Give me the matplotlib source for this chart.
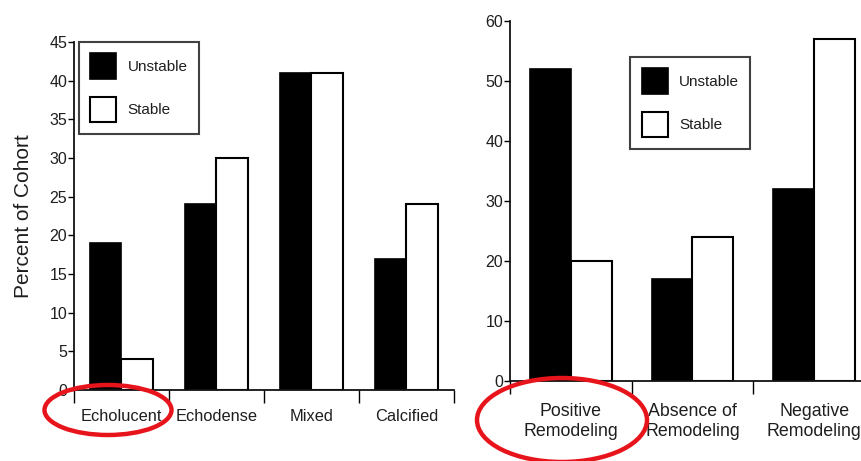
import matplotlib
matplotlib.use("Agg")
import matplotlib.pyplot as plt
from matplotlib.patches import Ellipse, Patch
from matplotlib.transforms import IdentityTransform
import numpy as np

plt.rcParams['font.family'] = ['Liberation Sans', 'DejaVu Sans']

# Left panel data
left_categories = ["Echolucent", "Echodense", "Mixed", "Calcified"]
left_unstable = [19, 24, 41, 17]
left_stable = [4, 30, 41, 24]
left_yticks = [0, 5, 10, 15, 20, 25, 30, 35, 40, 45]

# Right panel data
right_categories = ["Positive\nRemodeling", "Absence of\nRemodeling", "Negative\nRemodeling"]
right_unstable = [52, 17, 32]
right_stable = [20, 24, 57]
right_yticks = [0, 10, 20, 30, 40, 50, 60]

series_names = ["Unstable", "Stable"]

TXT = "#1e1e1e"
W, H = 862, 461
fig = plt.figure(figsize=(W / 100, H / 100), dpi=100)
fig.patch.set_facecolor("white")


def panel(rect, cats, unst, stab, yticks, ymax, tick_fs, cat_fs, cat_pad, leg_anchor, leg_fs):
    ax = fig.add_axes(rect)
    n = len(cats)
    x = np.arange(n) + 0.5
    bw = 0.335
    ax.bar(x - bw / 2, unst, bw, color="black", edgecolor="black", linewidth=1.2)
    ax.bar(x + bw / 2, stab, bw, color="white", edgecolor="black", linewidth=1.5)
    ax.set_xlim(0, n)
    ax.set_ylim(0, ymax)
    for s in ["top", "right"]:
        ax.spines[s].set_visible(False)
    for s in ["left", "bottom"]:
        ax.spines[s].set_linewidth(1.3)
        ax.spines[s].set_color("#111111")
    ax.set_yticks(yticks)
    ax.tick_params(axis="y", direction="out", length=4, width=1.0, labelsize=tick_fs,
                   labelcolor=TXT, pad=1)
    ax.set_xticks(np.arange(n + 1))
    ax.set_xticklabels([])
    ax.tick_params(axis="x", which="major", direction="out", length=9, width=1.0)
    ax.set_xticks(x, minor=True)
    ax.set_xticklabels(cats, minor=True, fontsize=cat_fs, color=TXT, linespacing=1.25)
    ax.tick_params(axis="x", which="minor", length=0, pad=cat_pad)
    handles = [Patch(facecolor="black", edgecolor="black", linewidth=1.2),
               Patch(facecolor="white", edgecolor="black", linewidth=1.5)]
    leg = ax.legend(handles, series_names, loc="upper left", bbox_to_anchor=leg_anchor,
                    fontsize=leg_fs, frameon=True, fancybox=False, handlelength=1.7,
                    handleheight=2.2, labelspacing=1.15, borderpad=0.75,
                    handletextpad=0.75, borderaxespad=0.0)
    leg.get_frame().set_edgecolor("#111111")
    leg.get_frame().set_linewidth(1.5)
    for t in leg.get_texts():
        t.set_color(TXT)
    return ax


# Left axes: x 74..454 px, y 42..390 px
axL = panel([74 / W, 1 - 390 / H, 380 / W, 348 / H], left_categories, left_unstable,
            left_stable, left_yticks, 45, 11.5, 11.8, 14, (0.013, 1.0), 11)
axL.set_ylabel("Percent of Cohort", fontsize=15, color=TXT, labelpad=12)

# Right axes: x 510..875 px, y 21..381 px
axR = panel([510 / W, 1 - 381 / H, 365 / W, 360 / H], right_categories, right_unstable,
            right_stable, right_yticks, 60, 11.5, 12.8, 16, (0.329, 0.9), 11)

# Red ellipses (annotation circles)
e1 = Ellipse((108, H - 410), 127, 50, transform=IdentityTransform(), fill=False,
             edgecolor="#e8141b", linewidth=3.2)
e2 = Ellipse((562, H - 420), 170, 84, transform=IdentityTransform(), fill=False,
             edgecolor="#e8141b", linewidth=3.2)
fig.add_artist(e1)
fig.add_artist(e2)

fig.savefig("out.png", dpi=100)
